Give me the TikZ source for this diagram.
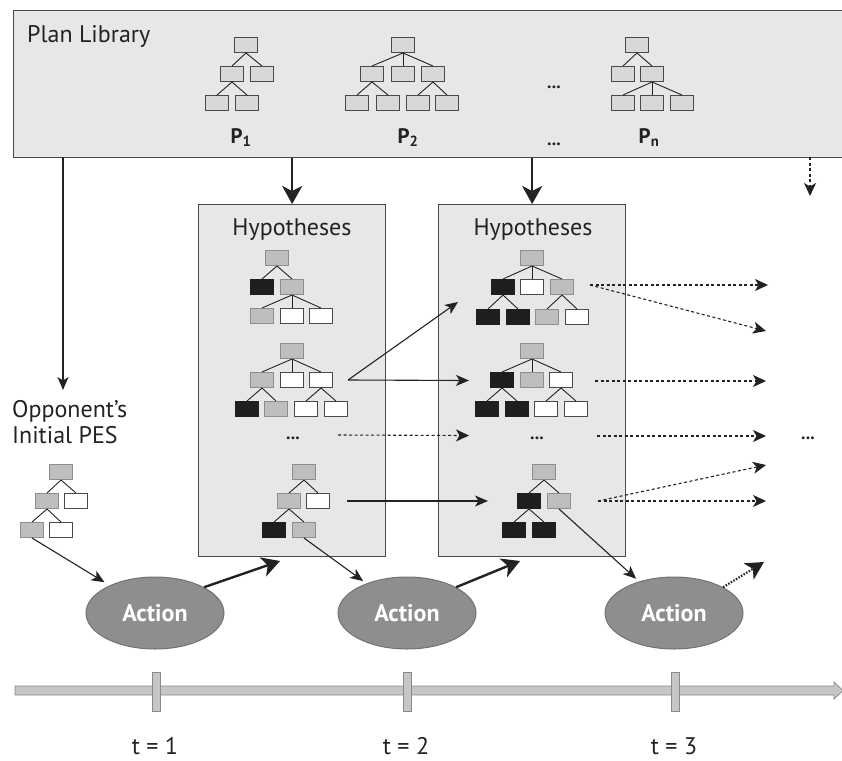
\documentclass[tikz,border=0pt]{standalone}
\usepackage{fontspec}
\setmainfont{PT Sans}
\usetikzlibrary{arrows.meta,shapes.geometric}

\definecolor{panel}{HTML}{E7E7E7}
\definecolor{frame}{HTML}{4A4A4A}
\definecolor{libnode}{HTML}{D8D8D8}
\definecolor{greynode}{HTML}{BEBEBE}
\definecolor{greyedge}{HTML}{8E8E8E}
\definecolor{blacknode}{HTML}{1E1E1E}
\definecolor{actfill}{HTML}{8E8E8E}
\definecolor{actedge}{HTML}{727272}
\definecolor{barfill}{HTML}{C6C6C6}
\definecolor{baredge}{HTML}{8A8A8A}
\definecolor{ink}{HTML}{222222}

\tikzset{
  panelbox/.style={draw=frame, fill=panel, line width=1.3pt, inner sep=0pt},
  tnode/.style={minimum width=22.5pt, minimum height=15pt, inner sep=0pt, line width=1pt},
  libbox/.style={tnode, fill=libnode, draw=frame},
  gbox/.style={tnode, fill=greynode, draw=greyedge},
  kbox/.style={tnode, fill=blacknode, draw=blacknode},
  wbox/.style={tnode, fill=white, draw=frame},
  link/.style={draw=ink, line width=0.9pt},
  label/.style={text=ink, font=\fontsize{24}{28}\selectfont, inner sep=0pt},
  plabel/.style={text=ink, font=\bfseries\fontsize{21}{24}\selectfont, inner sep=0pt},
  dots/.style={text=ink, font=\bfseries\fontsize{18}{20}\selectfont, inner sep=0pt},
  action/.style={ellipse, fill=actfill, draw=actedge, line width=1pt,
    minimum width=138pt, minimum height=72pt, inner sep=0pt,
    text=white, font=\bfseries\fontsize{24}{28}\selectfont},
  tick/.style={fill=barfill, draw=baredge, line width=0.8pt,
    minimum width=8pt, minimum height=39pt, inner sep=0pt},
  thinarrow/.style={draw=ink, line width=1.1pt, -{Stealth[length=13pt,width=11pt,inset=3.5pt]}},
  boldarrow/.style={draw=ink, line width=2.4pt, -{Stealth[length=18pt,width=20pt,inset=5pt]}},
  dotarrow/.style={draw=ink, line width=1.1pt, dash pattern=on 3pt off 2.5pt,
    -{Stealth[length=13pt,width=12pt,inset=3.5pt]}},
  dotbold/.style={draw=ink, line width=2.2pt, dash pattern=on 1.5pt off 1.5pt,
    -{Stealth[length=18pt,width=19pt,inset=5pt]}},
}

% one tree box: style, name, x, y
\newcommand\tb[4]{\node[#1] (#2) at (#3,#4) {};}
% a tree link from parent to child
\newcommand\tl[2]{\draw[link] (#1.south) -- (#2.north);}

\begin{document}
\begin{tikzpicture}[x=1pt,y=-1pt]
\useasboundingbox (0,0) rectangle (842,760);

% ---------------- plan library ----------------
\node[panelbox, minimum width=832pt, minimum height=147pt, anchor=north west] (lib) at (13,10) {};
\node[label, anchor=base west] (libtitle) at (27,43) {Plan Library};

% P1
\tb{libbox}{p1r}{246}{45}
\tb{libbox}{p1a}{232}{74} \tb{libbox}{p1b}{262}{74}
\tb{libbox}{p1c}{217}{103} \tb{libbox}{p1d}{247}{103}
\tl{p1r}{p1a} \tl{p1r}{p1b} \tl{p1a}{p1c} \tl{p1a}{p1d}
\node[plabel, anchor=base] (p1lab) at (241,143) {P\textsubscript{1}};

% P2
\tb{libbox}{p2r}{403}{45}
\tb{libbox}{p2a}{372}{74} \tb{libbox}{p2b}{403}{74} \tb{libbox}{p2c}{433}{74}
\tb{libbox}{p2d}{357}{103} \tb{libbox}{p2e}{388}{103} \tb{libbox}{p2f}{418}{103} \tb{libbox}{p2g}{447}{103}
\tl{p2r}{p2a} \tl{p2r}{p2b} \tl{p2r}{p2c}
\tl{p2a}{p2d} \tl{p2a}{p2e} \tl{p2c}{p2f} \tl{p2c}{p2g}
\node[plabel, anchor=base] (p2lab) at (408,143) {P\textsubscript{2}};

\node[dots] (libdotsA) at (554,87) {...};
\node[dots] (libdotsB) at (554,144) {...};

% Pn
\tb{libbox}{pnr}{637}{45}
\tb{libbox}{pna}{623}{74} \tb{libbox}{pnb}{652}{74}
\tb{libbox}{pnc}{623}{103} \tb{libbox}{pnd}{652}{103} \tb{libbox}{pne}{682}{103}
\tl{pnr}{pna} \tl{pnr}{pnb} \tl{pnb}{pnc} \tl{pnb}{pnd} \tl{pnb}{pne}
\node[plabel, anchor=base] (pnlab) at (649,143) {P\textsubscript{n}};

% ---------------- hypotheses panels ----------------
\node[panelbox, minimum width=187pt, minimum height=352pt, anchor=north west] (hyp1) at (198,204) {};
\node[panelbox, minimum width=187pt, minimum height=352pt, anchor=north west] (hyp2) at (438,204) {};
\node[label, anchor=base] (hyp1title) at (292,235) {Hypotheses};
\node[label, anchor=base] (hyp2title) at (533,235) {Hypotheses};

% first panel, tree a
\tb{gbox}{ar}{277}{258}
\tb{kbox}{a1}{262}{287} \tb{gbox}{a2}{292}{287}
\tb{gbox}{a3}{262}{316} \tb{wbox}{a4}{292}{316} \tb{wbox}{a5}{321}{316}
\tl{ar}{a1} \tl{ar}{a2} \tl{a2}{a3} \tl{a2}{a4} \tl{a2}{a5}

% first panel, tree b
\tb{gbox}{br}{292}{351}
\tb{gbox}{b1}{262}{380} \tb{wbox}{b2}{292}{380} \tb{wbox}{b3}{321}{380}
\tb{kbox}{b4}{247}{409} \tb{gbox}{b5}{276}{409} \tb{wbox}{b6}{306}{409} \tb{wbox}{b7}{336}{409}
\tl{br}{b1} \tl{br}{b2} \tl{br}{b3} \tl{b1}{b4} \tl{b1}{b5} \tl{b3}{b6} \tl{b3}{b7}

\node[dots] (hyp1dots) at (293,438) {...};

% first panel, tree c
\tb{gbox}{cr}{304}{472}
\tb{gbox}{c1}{289}{501} \tb{wbox}{c2}{318}{501}
\tb{kbox}{c3}{274}{530} \tb{gbox}{c4}{304}{530}
\tl{cr}{c1} \tl{cr}{c2} \tl{c1}{c3} \tl{c1}{c4}

% second panel, tree d
\tb{gbox}{dr}{532}{258}
\tb{kbox}{d1}{503}{287} \tb{wbox}{d2}{532}{287} \tb{gbox}{d3}{562}{287}
\tb{kbox}{d4}{488}{317} \tb{kbox}{d5}{518}{317} \tb{gbox}{d6}{547}{317} \tb{wbox}{d7}{577}{317}
\tl{dr}{d1} \tl{dr}{d2} \tl{dr}{d3} \tl{d1}{d4} \tl{d1}{d5} \tl{d3}{d6} \tl{d3}{d7}

% second panel, tree e
\tb{gbox}{er}{532}{351}
\tb{kbox}{e1}{502}{380} \tb{gbox}{e2}{532}{380} \tb{wbox}{e3}{561}{380}
\tb{kbox}{e4}{487}{409} \tb{kbox}{e5}{517}{409} \tb{wbox}{e6}{546}{409} \tb{wbox}{e7}{576}{409}
\tl{er}{e1} \tl{er}{e2} \tl{er}{e3} \tl{e1}{e4} \tl{e1}{e5} \tl{e3}{e6} \tl{e3}{e7}

\node[dots] (hyp2dots) at (537,438) {...};

% second panel, tree f
\tb{gbox}{fr}{544}{472}
\tb{kbox}{f1}{529}{501} \tb{gbox}{f2}{559}{501}
\tb{kbox}{f3}{514}{530} \tb{kbox}{f4}{544}{530}
\tl{fr}{f1} \tl{fr}{f2} \tl{f1}{f3} \tl{f1}{f4}

% ---------------- opponent's initial PES ----------------
\node[label, anchor=base west] (oppA) at (12,417) {Opponent’s};
\node[label, anchor=base west] (oppB) at (12,443) {Initial PES};
\tb{gbox}{sr}{61}{472}
\tb{gbox}{s1}{47}{501} \tb{wbox}{s2}{76}{501}
\tb{gbox}{s3}{32}{530} \tb{wbox}{s4}{61}{530}
\tl{sr}{s1} \tl{sr}{s2} \tl{s1}{s3} \tl{s1}{s4}

% ---------------- actions ----------------
\node[action] (act1) at (155,613) {Action};
\node[action] (act2) at (407,613) {Action};
\node[action] (act3) at (674,613) {Action};

% ---------------- time line ----------------
\filldraw[fill=barfill, draw=baredge, line width=0.8pt]
  (15,686) -- (834,686) -- (834,682) -- (843,690.5) -- (834,699) -- (834,695) -- (15,695) -- cycle;
\node[tick] (tk1) at (156,691.5) {};
\node[tick] (tk2) at (407,691.5) {};
\node[tick] (tk3) at (675,691.5) {};
\node[label, anchor=base] (t1) at (155,754) {t = 1};
\node[label, anchor=base] (t2) at (406,754) {t = 2};
\node[label, anchor=base] (t3) at (674,754) {t = 3};

% ---------------- connector end points ----------------
\coordinate (libL) at (63,157);
\coordinate (oppTop) at (63,390);
\coordinate (libR) at (810,157);
\coordinate (libRend) at (810,196);
\coordinate (bOut) at (348,380);
\coordinate (dIn) at (458,302);
\coordinate (eIn) at (469,380.5);
\coordinate (dotsOut) at (338,435);
\coordinate (dotsIn) at (469,435.5);
\coordinate (cOut) at (347,501);
\coordinate (fIn) at (488,501);
\coordinate (h1foot) at (280,561);
\coordinate (h2foot) at (520,561);
\coordinate (a3out) at (764,562);
\coordinate (dOut) at (590,285);
\coordinate (dEndA) at (768,285);
\coordinate (dEndB) at (766,331);
\coordinate (eOut) at (595,381);
\coordinate (eEnd) at (766,381);
\coordinate (gOut) at (597,436);
\coordinate (gEnd) at (766,436);
\coordinate (fOut) at (598,501);
\coordinate (fEndA) at (766,501);
\coordinate (fEndB) at (766,465);
\node[dots] (farDots) at (808,438) {...};

% ---------------- connectors ----------------
\draw[thinarrow] (libL) -- (oppTop);
\draw[boldarrow] (lib.south -| hyp1.north) -- (hyp1.north);
\draw[boldarrow] (lib.south -| hyp2.north) -- (hyp2.north);
\draw[dotarrow] (libR) -- (libRend);

\draw[thinarrow] (bOut) -- (dIn);
\draw[thinarrow] (bOut) -- (eIn);
\draw[dotarrow] (dotsOut) -- (dotsIn);
\draw[thinarrow] (cOut) -- (fIn);

\draw[dotarrow] (dOut) -- (dEndA);
\draw[dotarrow] (dOut) -- (dEndB);
\draw[dotarrow] (eOut) -- (eEnd);
\draw[dotarrow] (gOut) -- (gEnd);
\draw[dotarrow] (fOut) -- (fEndA);
\draw[dotarrow] (fOut) -- (fEndB);

\draw[thinarrow, shorten >=6pt] (s3.south) -- (act1);
\draw[thinarrow, shorten >=4pt] (c4.south) -- (act2);
\draw[thinarrow, shorten >=4pt] (f2.south) -- (act3);

\draw[boldarrow] (act1.north east) -- (h1foot);
\draw[boldarrow] (act2.north east) -- (h2foot);
\draw[dotbold] (act3.north east) -- (a3out);
\end{tikzpicture}
\end{document}
